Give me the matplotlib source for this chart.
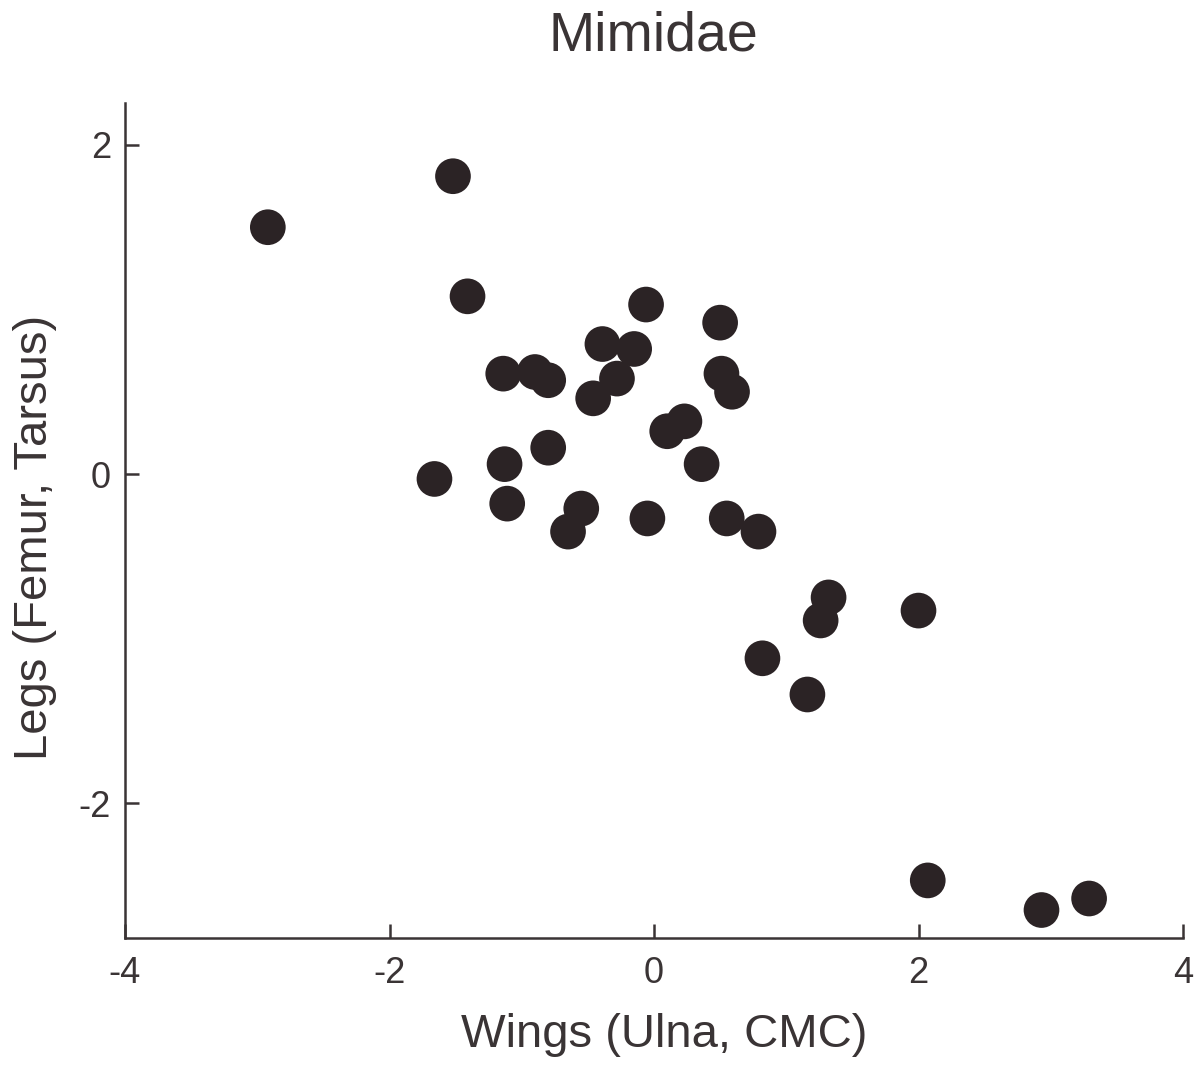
import matplotlib.pyplot as plt
import numpy as np

plt.rcParams['font.family'] = ['Liberation Sans', 'DejaVu Sans']

# Mimidae: wing vs leg scores
wings = [-2.92, -1.52, -1.41, -0.06, 0.50, -0.39, -0.15, -1.14, -0.90, -0.80,
         -0.28, 0.51, 0.59, -0.46, 0.10, 0.23, -0.80, 0.36, -1.13, -1.66,
         -1.11, -0.55, -0.65, -0.05, 0.55, 0.79, 1.32, 1.26, 2.00, 0.82,
         1.16, 2.07, 2.93, 3.29]
legs = [1.50, 1.81, 1.08, 1.03, 0.92, 0.79, 0.76, 0.61, 0.62, 0.57,
        0.58, 0.61, 0.50, 0.46, 0.26, 0.32, 0.16, 0.06, 0.06, -0.03,
        -0.18, -0.21, -0.35, -0.27, -0.27, -0.35, -0.75, -0.89, -0.83, -1.12,
        -1.34, -2.47, -2.65, -2.58]

x_ticks = [-4, -2, 0, 2, 4]
y_ticks = [-2, 0, 2]

ink = '#3a3435'
dot = '#2b2325'

W, H = 1196, 1067
fig = plt.figure(figsize=(W / 100, H / 100), dpi=100)
ax = fig.add_axes([125 / W, (H - 938) / H, (1183 - 125) / W, (938 - 103) / H])

ax.scatter(wings, legs, s=660, color=dot, edgecolors='none', zorder=3)

ax.set_xlim(-4, 4)
ax.set_ylim(-2.82, 2.255)
ax.set_xticks(x_ticks)
ax.set_yticks(y_ticks)
ax.set_xticklabels([str(v) for v in x_ticks])
ax.set_yticklabels([str(v) for v in y_ticks])

for side in ['top', 'right']:
    ax.spines[side].set_visible(False)
for side in ['left', 'bottom']:
    ax.spines[side].set_color(ink)
    ax.spines[side].set_linewidth(1.8)

ax.tick_params(axis='both', direction='in', length=10, width=1.8, color=ink,
               labelcolor=ink, labelsize=26)
ax.tick_params(axis='x', pad=13)
ax.tick_params(axis='y', pad=10)

ax.set_xlabel('Wings (Ulna, CMC)', fontsize=34, color=ink)
ax.xaxis.set_label_coords(0.51, -0.116)
ax.xaxis.label.set_va('center')
ax.set_ylabel('Legs (Femur, Tarsus)', fontsize=34, color=ink)
ax.yaxis.set_label_coords(-0.085, 0.48)
ax.yaxis.label.set_va('center')

ax.text(0.499, 1.08, 'Mimidae', transform=ax.transAxes, ha='center',
        va='center', fontsize=40, color=ink)

fig.savefig('out.png', dpi=100, facecolor='white')
